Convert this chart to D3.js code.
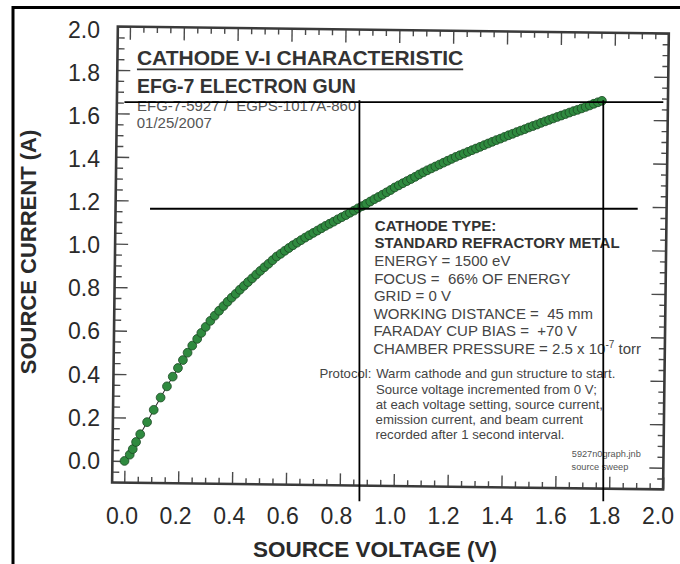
<!DOCTYPE html>
<html><head><meta charset="utf-8">
<script src="https://cdn.jsdelivr.net/npm/d3@7"></script>
<style>
html,body{margin:0;padding:0;background:#fff;}
svg{display:block;font-family:"Liberation Sans",Arial,Helvetica,sans-serif;}
text{white-space:pre;}
</style></head><body>
<svg id="chart" width="680" height="564"></svg>
<script>
// ---------- data ----------
const voltage = [0, 0.019, 0.030, 0.042, 0.057, 0.082, 0.106, 0.131, 0.154, 0.175, 0.194, 0.212, 0.229, 0.246, 0.264, 0.279, 0.295, 0.312, 0.328, 0.344,
  0.360, 0.375, 0.390, 0.405, 0.420, 0.435, 0.450, 0.465, 0.480, 0.495, 0.510, 0.525, 0.540, 0.555, 0.570, 0.585, 0.600, 0.615, 0.630, 0.645,
  0.660, 0.675, 0.690, 0.705, 0.720, 0.735, 0.750, 0.765, 0.780, 0.795, 0.810, 0.825, 0.840, 0.855, 0.870, 0.885, 0.900, 0.915, 0.930, 0.945,
  0.960, 0.975, 0.990, 1.005, 1.020, 1.035, 1.050, 1.065, 1.080, 1.095, 1.110, 1.125, 1.140, 1.155, 1.170, 1.185, 1.200, 1.215, 1.230, 1.245,
  1.260, 1.275, 1.290, 1.305, 1.320, 1.335, 1.350, 1.365, 1.380, 1.395, 1.410, 1.425, 1.440, 1.455, 1.470, 1.485, 1.500, 1.515, 1.530, 1.545,
  1.560, 1.575, 1.590, 1.605, 1.620, 1.635, 1.650, 1.665, 1.680, 1.695, 1.710, 1.725, 1.740, 1.755];
const current = [0, 0.029, 0.055, 0.088, 0.124, 0.180, 0.237, 0.294, 0.346, 0.391, 0.431, 0.468, 0.502, 0.535, 0.566, 0.594, 0.622, 0.650, 0.674, 0.697,
  0.719, 0.739, 0.758, 0.776, 0.795, 0.813, 0.831, 0.848, 0.866, 0.883, 0.900, 0.916, 0.933, 0.950, 0.963, 0.977, 0.990, 1.003, 1.015, 1.027,
  1.039, 1.050, 1.061, 1.072, 1.083, 1.094, 1.104, 1.114, 1.125, 1.135, 1.145, 1.156, 1.166, 1.177, 1.187, 1.198, 1.209, 1.220, 1.230, 1.241,
  1.252, 1.263, 1.275, 1.285, 1.295, 1.305, 1.315, 1.325, 1.336, 1.346, 1.356, 1.365, 1.374, 1.383, 1.392, 1.401, 1.410, 1.419, 1.427, 1.435,
  1.443, 1.451, 1.459, 1.467, 1.475, 1.483, 1.491, 1.499, 1.506, 1.514, 1.522, 1.529, 1.537, 1.544, 1.551, 1.559, 1.566, 1.573, 1.581, 1.588,
  1.595, 1.602, 1.609, 1.616, 1.623, 1.630, 1.637, 1.643, 1.650, 1.657, 1.664, 1.672, 1.679, 1.686];

const xTickLabels = [0.0, 0.2, 0.4, 0.6, 0.8, 1.0, 1.2, 1.4, 1.6, 1.8, 2.0];
const yTickLabels = [0.0, 0.2, 0.4, 0.6, 0.8, 1.0, 1.2, 1.4, 1.6, 1.8, 2.0];
const xMajor = [0.0, 0.2, 0.4, 0.6, 0.8, 1.0, 1.2, 1.4, 1.6, 1.8, 2.0];
const yMajor = [0.0, 0.2, 0.4, 0.6, 0.8, 1.0, 1.2, 1.4, 1.6, 1.8, 2.0];

// crosshair annotations (voltage, current of the marked points)
const crossVoltage = [0.86, 1.76];
const crossCurrent = [1.175, 1.68];

const xTitle = "SOURCE VOLTAGE (V)";
const yTitle = "SOURCE CURRENT (A)";
const chartTitle = "CATHODE V-I CHARACTERISTIC";
const chartSubtitle = "EFG-7 ELECTRON GUN";
const headerLines = ["EFG-7-5927 /  EGPS-1017A-860", "01/25/2007"];
const boxBold = ["CATHODE TYPE:", "STANDARD REFRACTORY METAL"];
const boxLines = ["ENERGY = 1500 eV", "FOCUS =  66% OF ENERGY", "GRID = 0 V", "WORKING DISTANCE =  45 mm", "FARADAY CUP BIAS =  +70 V"];
const pressureLine = ["CHAMBER PRESSURE = 2.5 x 10", "-7", " torr"];
const protocolLabel = "Protocol:";
const protocolLines = ["Warm cathode and gun structure to start.", "Source voltage incremented from 0 V;",
  "at each voltage setting, source current,", "emission current, and beam current", "recorded after 1 second interval."];
const fileNotes = ["5927n0graph.jnb", "source sweep"];

// ---------- layout ----------
const svg = d3.select("#chart");
const W = 680, H = 564;
const plot = {left: 115, right: 666, top: 30, bottom: 486};
const x = d3.scaleLinear().domain([-0.045, 2.0]).range([plot.left, plot.right]);
const y = d3.scaleLinear().domain([-0.1, 2.0]).range([plot.bottom, plot.top]);
// scanned page is slightly tilted
const angDeg = 0.72, cx = 392, cy = 255, ang = angDeg * Math.PI / 180;
function rot(px, py) {
  const dx = px - cx, dy = py - cy;
  return [cx + dx * Math.cos(ang) - dy * Math.sin(ang), cy + dx * Math.sin(ang) + dy * Math.cos(ang)];
}
function put(sel, px, py) { const p = rot(px, py); return sel.attr("x", p[0]).attr("y", p[1]); }
// labels typed on top of the scan (not tilted)
const xl = d3.scaleLinear().domain([0, 2]).range([122, 658]);
const yl = d3.scaleLinear().domain([0, 2]).range([460.5, 29.5]);

svg.append("rect").attr("width", W).attr("height", H).attr("fill", "#fff");

const g = svg.append("g").attr("transform", `rotate(${angDeg},${cx},${cy})`);

// ticks
const tickCol = "#4a4a4a";
const minorX = d3.range(0, 2.0001, 0.05).filter(v => !xMajor.some(m => Math.abs(m - v) < 1e-6));
const minorY = d3.range(-0.05, 2.0001, 0.05).filter(v => !yMajor.some(m => Math.abs(m - v) < 1e-6));
function addAxis(axisFn, scale, vals, size, tx, ty) {
  const a = g.append("g").attr("transform", `translate(${tx},${ty})`)
    .call(axisFn(scale).tickValues(vals).tickSize(size).tickFormat(""));
  a.select(".domain").remove();
  a.selectAll("line").attr("stroke", tickCol).attr("stroke-width", 1.4);
}
addAxis(d3.axisRight, y, yMajor, 13, plot.left, 0);
addAxis(d3.axisRight, y, minorY, 7, plot.left, 0);
addAxis(d3.axisLeft, y, yMajor, 14, plot.right, 0);
addAxis(d3.axisLeft, y, minorY, 6, plot.right, 0);
addAxis(d3.axisBottom, x, xMajor, 13, 0, plot.top);
addAxis(d3.axisBottom, x, minorX, 6, 0, plot.top);
addAxis(d3.axisTop, x, xMajor, 12, 0, plot.bottom);
addAxis(d3.axisTop, x, minorX, 6, 0, plot.bottom);

g.append("rect").attr("x", plot.left).attr("y", plot.top)
  .attr("width", plot.right - plot.left).attr("height", plot.bottom - plot.top)
  .attr("fill", "none").attr("stroke", "#3a3a3a").attr("stroke-width", 2.6);

// data line and markers
const pts = voltage.map((v, i) => ({v, c: current[i]}));
g.append("path").datum(pts)
  .attr("d", d3.line().x(d => x(d.v)).y(d => y(d.c)))
  .attr("fill", "none").attr("stroke", "#2b2b2b").attr("stroke-width", 1);
g.selectAll(".pt").data(pts).enter().append("circle").attr("class", "pt")
  .attr("cx", d => x(d.v)).attr("cy", d => y(d.c)).attr("r", 4.4)
  .attr("fill", "#2f8a3f").attr("stroke", "#1b4a24").attr("stroke-width", 0.8);

// ---------- scan texts (positions follow the tilt, glyphs upright) ----------
const tg = svg.append("g");
const t1 = put(tg.append("text"), 134.6, 68.2).attr("font-size", 21).attr("font-weight", "bold")
  .attr("fill", "#333").text(chartTitle);
const tw = t1.node().getComputedTextLength();
const u0 = rot(134.6, 70.6), u1 = rot(134.6 + tw, 70.6);
tg.append("line").attr("x1", u0[0]).attr("x2", u1[0]).attr("y1", (u0[1] + u1[1]) / 2).attr("y2", (u0[1] + u1[1]) / 2)
  .attr("stroke", "#333").attr("stroke-width", 1.8);
put(tg.append("text"), 135, 96.5).attr("font-size", 19.5).attr("font-weight", "bold")
  .attr("fill", "#333").text(chartSubtitle);
headerLines.forEach((s, i) => put(tg.append("text"), 135.2, 114.5 + i * 16.8)
  .attr("font-size", 15).attr("fill", "#555").text(s));

// cathode box text
const bx = 374.5, by0 = 231, bstep = 17.6;
boxBold.forEach((s, i) => put(tg.append("text"), bx, by0 + i * bstep)
  .attr("font-size", 15).attr("font-weight", "bold").attr("fill", "#333").text(s));
boxLines.forEach((s, i) => put(tg.append("text"), bx, by0 + (i + 2) * bstep)
  .attr("font-size", 15).attr("fill", "#444").text(s));
const pt = put(tg.append("text"), bx, by0 + 7 * bstep).attr("font-size", 15).attr("fill", "#444");
pt.append("tspan").text(pressureLine[0]);
pt.append("tspan").attr("font-size", 10).attr("dy", -6).text(pressureLine[1]);
pt.append("tspan").attr("dy", 6).text(pressureLine[2]);

// protocol
put(tg.append("text"), 373, 378.5).attr("text-anchor", "end").attr("font-size", 13.2)
  .attr("fill", "#444").text(protocolLabel);
protocolLines.forEach((s, i) => put(tg.append("text"), 377.7, 378.5 + i * 15.25)
  .attr("font-size", 13.2).attr("fill", "#444").text(s));
fileNotes.forEach((s, i) => put(tg.append("text"), 574.3, 454.5 + i * 13.3)
  .attr("font-size", 9.2).attr("fill", "#555").text(s));

// ---------- overlay (untilted) ----------
const f = d3.format(".1f");
svg.selectAll(".xl").data(xTickLabels).enter().append("text").attr("class", "xl")
  .attr("x", d => xl(d)).attr("y", 524).attr("text-anchor", "middle")
  .attr("font-size", 23).attr("fill", "#2a2a2a").text(d => f(d));
svg.selectAll(".yl").data(yTickLabels).enter().append("text").attr("class", "yl")
  .attr("x", 100).attr("y", d => yl(d)).attr("dy", "0.36em").attr("text-anchor", "end")
  .attr("font-size", 23).attr("fill", "#2a2a2a").text(d => f(d));
svg.append("text").attr("x", 375).attr("y", 557).attr("text-anchor", "middle").attr("font-size", 22.5)
  .attr("font-weight", "bold").attr("fill", "#2a2a2a").text(xTitle);
svg.append("text").attr("transform", "translate(36,252) rotate(-90)").attr("text-anchor", "middle")
  .attr("font-size", 22).attr("font-weight", "bold").attr("fill", "#2a2a2a").text(yTitle);

// crosshair lines
const pHi = rot(x(crossVoltage[1]), y(crossCurrent[1]));
const pLo = rot(x(crossVoltage[0]), y(crossCurrent[0]));
const lineBottom = y(-0.17);
const cross = svg.append("g").attr("stroke", "#000").attr("stroke-width", 1.8);
cross.append("line").attr("x1", x(-0.01)).attr("x2", x(1.99)).attr("y1", pHi[1]).attr("y2", pHi[1]);
cross.append("line").attr("x1", x(0.085)).attr("x2", x(1.895)).attr("y1", pLo[1]).attr("y2", pLo[1]);
cross.append("line").attr("x1", pLo[0]).attr("x2", pLo[0]).attr("y1", pHi[1] - 2).attr("y2", lineBottom);
cross.append("line").attr("x1", pHi[0]).attr("x2", pHi[0]).attr("y1", pHi[1] - 2).attr("y2", lineBottom);

// page border
svg.append("path").attr("d", `M13,${H} V7.5 H${W}`).attr("fill", "none").attr("stroke", "#000").attr("stroke-width", 3);
</script>
</body></html>
